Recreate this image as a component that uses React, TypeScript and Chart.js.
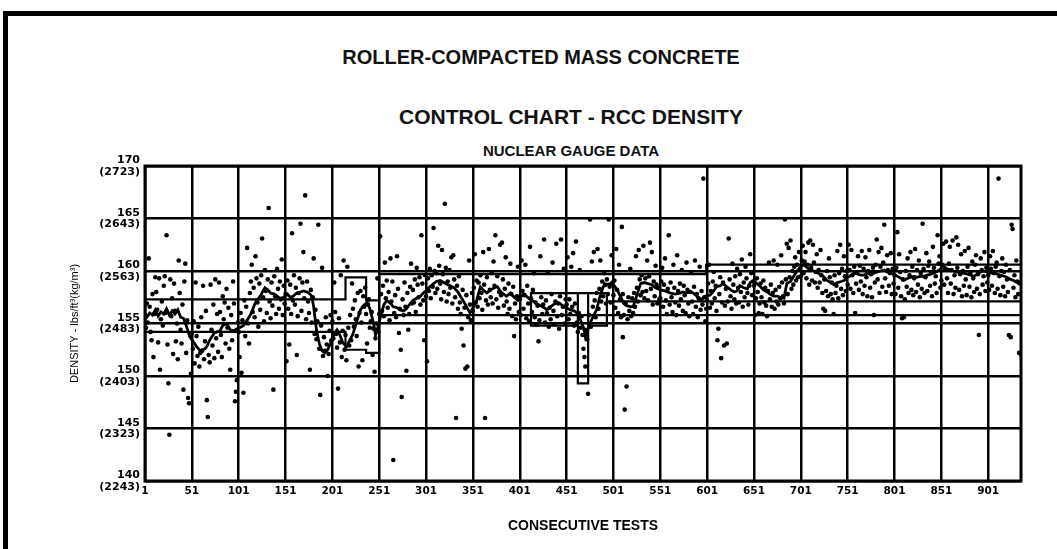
import React, { useEffect, useRef } from 'react';
import { Chart, registerables } from 'chart.js';

Chart.register(...registerables);

const chartTitle = 'ROLLER-COMPACTED MASS CONCRETE';
const chartSubtitle = 'CONTROL CHART - RCC DENSITY';
const chartCaption = 'NUCLEAR GAUGE DATA';
const xAxisTitle = 'CONSECUTIVE TESTS';
const yAxisTitle = 'DENSITY - lbs/ft³(kg/m³)';

const testTicks = [1, 51, 101, 151, 201, 251, 301, 351, 401, 451, 501, 551, 601, 651, 701, 751, 801, 851, 901];
const firstTest = 1;
const lastTest = 936;
const densityTicksLb = [140, 145, 150, 155, 160, 165, 170];
const densityTicksKg = [2243, 2323, 2403, 2483, 2563, 2643, 2723];

// individual nuclear gauge readings [test no., density lb/ft3]
const gaugeReadings: [number, number][] = [
  [1,155.8],[2,154.6],[3,156.9],[4,155.1],[5,161.2],[6,156.6],[7,154.2],[8,153.4],[9,157.8],[10,151.8],[11,155.9],[12,159.4],[13,158.0],[14,156.3],[15,153.2],[16,159.3],[17,150.6],[18,155.4],[19,157.1],[20,154.8],[21,158.6],[22,159.5],[23,156.0],[24,163.4],[25,153.0],[26,149.3],[27,144.4],[28,159.2],[29,155.7],[30,157.4],[31,152.1],[32,158.8],[33,156.2],[34,153.3],[35,155.0],[36,151.6],[37,161.0],[38,157.9],[39,154.4],[40,153.1],[41,156.8],[42,148.7],[43,159.0],[44,160.7],[45,152.2],[46,155.3],[47,147.9],[48,147.4],[49,154.0],[50,150.2],
  [55,158.9],[60,152.2],[63,158.6],[67,147.7],[68,146.1],[71,158.7],[76,159.2],[80,158.9],[84,157.6],[88,158.3],[92,150.6],[95,159.0],[97,147.6],[98,148.5],[99,149.6],
  [51,154.1],[52,152.6],[53,155.2],[54,151.2],[56,153.8],[57,151.9],[58,154.7],[59,150.9],[61,155.6],[62,152.4],[64,151.6],[65,153.3],[66,156.2],[69,152.0],[70,151.3],[72,154.4],[73,152.9],[74,156.8],[75,151.7],[77,153.6],[78,155.9],[79,152.3],[81,156.1],[82,153.9],[83,151.8],[85,155.4],[86,157.0],[87,153.1],[89,154.6],[90,156.5],[91,152.6],[93,155.8],[94,153.4],[96,156.9],[100,155.1],
  [102,151.8],[104,150.3],[106,148.4],[110,162.2],[112,153.1],[115,160.6],[119,161.4],[126,163.1],[133,166.0],[138,148.7],[142,160.2],[147,161.1],
  [101,154.2],[103,156.0],[105,155.3],[107,157.2],[108,153.8],[109,156.6],[111,155.0],[113,157.9],[114,159.0],[116,156.1],[117,158.4],[118,155.6],[120,159.3],[121,157.0],[122,154.7],[123,158.8],[124,156.3],[125,159.6],[127,157.5],[128,155.2],[129,160.1],[130,158.1],[131,156.0],[132,159.2],[134,157.1],[135,155.5],[136,158.9],[137,156.7],[139,159.5],[140,157.6],[141,155.9],[143,158.3],[144,156.4],[145,159.0],[146,157.3],[148,155.8],[149,158.6],[150,156.9],
  [152,151.4],[155,153.0],[158,163.6],[163,152.0],[167,164.5],[170,161.8],[172,167.2],[177,150.6],[181,161.2],[186,164.4],[188,148.2],[190,160.3],[196,150.0],
  [151,157.8],[153,159.1],[154,156.4],[156,158.7],[157,155.9],[159,157.2],[160,159.6],[161,156.8],[162,158.4],[164,155.7],[165,157.9],[166,159.3],[168,156.2],[169,158.9],[171,157.4],[173,155.4],[174,159.0],[175,157.1],[176,156.0],[178,158.2],[179,155.1],[180,157.5],[182,154.0],[183,156.3],[184,153.5],[185,155.2],[187,152.6],[189,154.8],[191,151.9],[192,153.7],[193,152.4],[194,155.6],[195,153.0],[197,152.1],[198,154.3],[199,155.8],[200,153.4],
  [203,158.9],[207,148.8],[210,159.6],[213,161.0],[217,160.4],[222,158.8],[229,150.9],[233,151.5],[238,153.1],[241,154.6],[244,152.0],[246,150.4],[249,159.3],
  [201,155.2],[202,153.6],[204,156.1],[205,154.0],[206,152.7],[208,155.5],[209,153.2],[211,151.8],[212,154.3],[214,152.5],[215,153.9],[216,151.5],[218,154.6],[219,152.9],[220,155.8],[221,153.4],[223,156.4],[224,154.7],[225,157.2],[226,155.4],[227,153.8],[228,157.9],[230,156.0],[231,158.1],[232,155.1],[234,157.6],[235,156.6],[236,158.4],[237,155.9],[239,156.8],[240,157.3],[242,155.2],[243,156.1],[245,154.5],[247,153.6],[248,155.0],[250,154.2],
  [252,163.3],[257,160.8],[263,161.2],[266,142.0],[270,161.4],[272,154.1],[274,152.5],[275,148.0],[280,150.5],[282,154.4],[285,160.7],[291,160.3],[296,163.4],[299,153.4],
  [251,155.9],[253,157.8],[254,156.2],[255,158.6],[256,155.7],[258,157.4],[259,159.1],[260,156.5],[261,158.0],[262,155.3],[264,157.1],[265,159.0],[267,156.0],[268,157.7],[269,155.6],[271,158.3],[273,156.4],[276,157.3],[277,155.8],[278,158.9],[279,156.6],[281,157.9],[283,155.9],[284,158.5],[286,156.9],[287,158.2],[288,157.0],[289,159.2],[290,156.1],[292,158.7],[293,157.5],[294,159.4],[295,156.8],[297,158.8],[298,157.2],[300,159.6],
  [302,151.4],[309,164.1],[314,162.4],[318,162.0],[321,166.4],[328,161.3],[330,161.5],[333,146.0],[339,154.5],[341,152.9],[343,150.7],[345,150.9],[347,161.0],
  [301,157.6],[303,159.3],[304,158.1],[305,160.2],[306,157.4],[307,159.6],[308,158.5],[310,160.0],[311,157.9],[312,159.8],[313,158.3],[315,160.5],[316,158.8],[317,157.3],[319,159.7],[320,158.0],[322,160.3],[323,157.1],[324,159.0],[325,157.8],[326,160.1],[327,158.4],[329,156.9],[331,159.2],[332,157.5],[334,158.6],[335,156.4],[336,159.5],[337,157.0],[338,155.9],[340,158.2],[342,156.5],[344,157.7],[346,155.6],[348,156.8],[349,155.3],[350,157.9],
  [353,161.6],[362,161.8],[364,146.0],[368,162.1],[373,160.9],[375,163.4],[380,162.5],[382,162.7],[386,161.3],[391,160.7],[395,153.8],[399,160.4],
  [351,156.2],[352,158.4],[354,157.0],[355,159.1],[356,156.6],[357,158.9],[358,157.4],[359,159.6],[360,157.9],[361,156.3],[363,158.7],[365,157.2],[366,159.4],[367,156.8],[369,158.2],[370,157.5],[371,159.8],[372,156.9],[374,158.6],[376,157.3],[377,159.5],[378,156.5],[379,158.0],[381,157.7],[383,159.2],[384,156.7],[385,158.3],[387,157.1],[388,155.9],[389,158.8],[390,156.4],[392,157.8],[393,155.7],[394,158.5],[396,156.9],[397,155.4],[398,157.6],[400,156.1],
  [403,161.0],[407,160.6],[412,162.3],[416,159.8],[421,153.3],[423,161.4],[427,163.0],[431,159.9],[436,160.8],[440,162.6],[445,163.0],[448,160.2],
  [401,157.3],[402,155.8],[404,158.1],[405,156.4],[406,157.7],[408,155.5],[409,158.6],[410,156.9],[411,155.2],[413,157.4],[414,156.1],[415,158.2],[417,155.6],[418,157.0],[419,154.9],[420,156.7],[422,155.3],[424,157.5],[425,155.9],[426,156.8],[428,155.1],[429,157.2],[430,156.0],[432,154.7],[433,156.5],[434,155.4],[435,157.8],[437,156.2],[438,154.9],[439,157.1],[441,155.7],[442,156.9],[443,154.5],[444,157.6],[446,155.8],[447,156.6],[449,155.0],[450,157.3],
  [452,161.3],[456,160.4],[458,161.7],[461,162.8],[465,160.1],[469,152.6],[470,151.8],[471,150.9],[474,148.3],[476,164.9],[478,160.9],[480,161.8],[484,162.1],[487,161.0],[491,159.8],[496,164.9],[499,161.5],
  [451,156.8],[453,155.4],[454,157.3],[455,155.9],[457,156.6],[459,154.8],[460,156.9],[462,155.1],[463,154.2],[464,156.0],[466,154.6],[467,155.7],[468,153.9],[472,154.4],[473,153.5],[475,155.8],[477,154.7],[479,156.6],[481,157.2],[482,155.6],[483,157.9],[485,156.4],[486,158.3],[488,157.1],[489,159.0],[490,157.6],[492,158.7],[493,156.9],[494,159.2],[495,157.8],[497,158.5],[498,157.0],[500,158.9],
  [504,162.1],[507,160.6],[510,164.2],[511,153.7],[513,146.8],[515,149.0],[519,160.2],[525,161.4],[528,162.0],[533,162.4],[537,161.0],[540,162.7],[542,161.8],[546,160.5],
  [501,157.7],[502,159.1],[503,156.5],[505,158.2],[506,156.0],[508,157.3],[509,155.6],[511,157.8],[512,155.8],[514,156.9],[516,155.4],[517,157.5],[518,156.2],[520,155.7],[521,157.4],[522,156.0],[523,157.9],[524,156.6],[526,158.4],[527,157.1],[529,159.2],[530,157.7],[531,159.6],[532,158.0],[534,157.4],[535,159.3],[536,158.1],[538,157.2],[539,159.5],[541,158.3],[543,156.8],[544,159.0],[545,157.6],[547,158.7],[548,156.9],[549,158.4],[550,157.3],
  [553,160.3],[556,161.2],[560,163.4],[565,160.6],[569,161.5],[574,160.1],[579,160.8],[584,159.9],[588,161.0],[593,160.4],[597,168.8],[599,155.2],
  [551,157.4],[552,159.0],[554,156.6],[555,158.7],[557,157.2],[558,155.9],[559,158.3],[561,156.8],[562,158.9],[563,157.5],[564,156.1],[566,158.4],[567,157.0],[568,155.8],[570,158.1],[571,156.7],[572,158.8],[573,157.3],[575,156.2],[576,158.6],[577,157.7],[578,156.0],[580,158.2],[581,156.9],[582,155.7],[583,158.0],[585,157.1],[586,155.9],[587,158.5],[589,156.6],[590,157.8],[591,155.6],[592,157.4],[594,156.3],[595,158.1],[596,156.8],[598,157.5],[600,156.4],
  [603,160.6],[608,159.9],[612,153.4],[613,154.5],[616,151.7],[619,152.9],[622,153.1],[624,163.1],[628,160.7],[633,160.2],[638,161.1],[642,160.4],[647,161.6],
  [601,157.2],[602,158.8],[604,156.5],[605,158.1],[606,156.9],[607,159.0],[609,157.4],[610,158.6],[611,156.2],[614,157.8],[615,159.4],[617,157.0],[618,158.9],[620,156.7],[621,158.3],[623,157.1],[625,159.2],[626,157.6],[627,156.4],[629,158.7],[630,157.3],[631,159.5],[632,156.9],[634,158.4],[635,157.0],[636,159.7],[637,158.0],[639,156.6],[640,158.9],[641,157.5],[643,159.3],[644,157.9],[645,156.8],[646,158.6],[648,159.8],[649,157.7],[650,159.0],
  [652,155.8],[656,156.0],[660,155.9],[665,155.7],[667,160.8],[672,161.0],[676,160.6],[680,161.5],[684,164.9],[686,162.6],[688,162.2],[690,162.9],[695,161.3],[699,161.8],
  [651,158.6],[653,157.4],[654,159.3],[655,158.0],[657,156.9],[658,158.8],[659,157.5],[661,159.1],[662,157.0],[663,158.4],[664,156.7],[666,158.1],[668,157.3],[669,158.7],[670,156.6],[671,157.9],[673,156.4],[674,158.2],[675,157.1],[677,156.8],[678,158.5],[679,157.4],[681,158.9],[682,157.6],[683,156.9],[685,159.2],[687,157.8],[689,159.4],[691,158.3],[692,160.0],[693,158.7],[694,160.4],[696,159.1],[697,160.6],[698,159.4],[700,160.2],
  [703,162.4],[706,161.8],[709,162.7],[711,162.9],[714,162.5],[718,161.6],[722,162.0],[725,156.4],[727,156.2],[731,161.2],[736,155.9],[740,161.9],[743,162.5],[747,161.4],
  [701,159.5],[702,161.0],[704,159.8],[705,160.9],[707,159.3],[708,160.6],[710,158.7],[712,160.3],[713,159.1],[715,160.8],[716,158.9],[717,159.9],[719,158.4],[720,160.1],[721,158.9],[723,159.6],[724,157.9],[726,159.2],[728,158.1],[729,160.0],[730,157.6],[732,159.4],[733,157.8],[734,158.9],[735,157.3],[737,159.6],[738,157.9],[739,158.6],[741,157.4],[742,159.8],[744,158.3],[745,160.2],[746,157.7],[748,159.5],[749,158.1],[750,160.0],
  [752,162.5],[755,162.0],[759,156.0],[762,161.4],[766,161.9],[770,161.3],[774,162.0],[779,155.8],[782,163.0],[784,161.8],[787,162.2],[790,164.4],[793,161.5],[797,161.7],
  [751,158.7],[753,160.1],[754,158.3],[756,159.6],[757,157.9],[758,160.4],[760,158.8],[761,159.9],[763,158.2],[764,160.5],[765,159.0],[767,157.8],[768,160.2],[769,158.6],[771,159.4],[772,157.6],[773,160.0],[775,158.4],[776,159.7],[777,157.5],[778,160.3],[780,158.9],[781,160.6],[783,159.2],[785,157.9],[786,160.4],[788,158.5],[789,160.8],[791,159.3],[792,158.0],[794,160.1],[795,158.6],[796,159.8],[798,157.8],[799,160.2],[800,158.8],
  [804,163.7],[806,161.6],[809,155.5],[811,155.6],[815,161.2],[818,161.8],[823,162.1],[827,161.0],[831,164.5],[835,161.7],[838,160.9],[842,162.3],[847,163.4],[849,161.4],
  [801,159.6],[802,157.8],[803,160.3],[805,158.4],[807,159.9],[808,157.6],[810,159.2],[812,157.3],[813,160.0],[814,158.5],[816,157.9],[817,159.6],[819,158.2],[820,160.4],[821,157.7],[822,159.3],[824,158.0],[825,160.1],[826,158.7],[828,157.5],[829,159.8],[830,158.3],[832,160.2],[833,157.9],[834,159.4],[836,158.1],[837,160.5],[839,158.6],[840,159.9],[841,157.6],[843,160.3],[844,158.8],[845,159.5],[846,157.9],[848,160.7],[850,158.4],
  [853,162.6],[856,162.8],[860,162.3],[863,162.9],[867,163.2],[869,162.5],[872,161.6],[876,161.9],[880,162.2],[884,160.9],[888,161.5],[891,153.9],[893,161.2],[897,161.8],
  [851,159.1],[852,160.6],[854,158.7],[855,160.2],[857,159.3],[858,157.9],[859,160.7],[861,158.8],[862,160.1],[864,157.8],[865,159.6],[866,158.4],[868,160.3],[870,158.2],[871,159.7],[873,157.6],[874,160.0],[875,158.6],[877,159.2],[878,157.7],[879,160.4],[881,158.5],[882,159.8],[883,157.5],[885,159.3],[886,158.0],[887,160.6],[889,158.3],[890,159.7],[892,157.8],[894,160.1],[895,158.7],[896,159.5],[898,158.1],[899,160.3],[900,158.9],
  [903,161.4],[906,161.9],[910,160.8],[912,168.8],[916,161.2],[920,160.6],[923,153.9],[925,153.7],[926,164.4],[927,164.0],[931,161.0],[934,152.2],[936,152.0],
  [901,159.6],[902,158.2],[904,160.2],[905,158.6],[907,159.8],[908,157.9],[909,160.4],[911,158.3],[913,159.5],[914,157.7],[915,160.0],[917,158.5],[918,159.9],[919,157.6],[921,159.2],[922,158.0],[924,160.1],[928,158.4],[929,159.6],[930,157.5],[932,159.0],[933,157.8],[935,158.9]
];

// moving average of the readings [test no., density]
const movingAverage: [number, number][] = [
  [1,155.4],[3,155.6],[6,156.0],[9,155.8],[12,156.3],[15,155.7],[18,156.1],[21,155.9],[24,156.4],[27,155.8],[30,156.2],[33,155.9],[36,156.3],[39,155.6],[42,155.5],[45,154.8],[49,153.7],[53,153.2],[56,152.8],[60,152.4],[62,152.5],[65,152.6],[67,152.8],[70,153.4],[72,153.7],[75,154.1],[78,154.2],[81,154.3],[84,154.8],[88,155.0],[92,154.4],[96,154.3],[99,154.5],[102,154.6],[106,154.8],[110,155.3],[114,155.9],[117,156.6],[120,157.2],[124,157.6],[127,158.1],[129,158.4],[132,158.2],[135,157.9],[139,157.8],[142,157.6],[145,157.4],[149,157.5],[153,157.8],[156,157.5],[159,157.6],[163,157.9],[167,158.0],[170,158.1],[174,158.0],[177,157.8],[179,157.6],[181,156.6],[184,154.4],[187,153.1],[190,152.4],[193,152.2],[196,152.5],[199,153.1],[202,153.9],[206,154.4],[209,153.9],[212,153.2],[216,152.8],[219,153.3],[223,154.0],[227,155.2],[231,156.3],[234,156.7],[238,157.0],[241,156.4],[245,155.0],[247,153.9],[250,154.8],[253,155.9],[256,156.8],[259,157.2],[263,156.9],[266,156.6],[270,156.5],[273,156.3],[277,156.2],[280,156.4],[284,156.9],[287,157.2],[291,157.4],[295,157.6],[298,157.9],[302,158.2],[305,158.5],[309,158.8],[312,159.0],[316,159.1],[320,158.9],[324,158.7],[327,158.6],[331,158.4],[335,158.0],[339,157.4],[343,156.8],[346,156.3],[348,156.0],[351,156.5],[355,157.2],[359,158.5],[363,158.1],[366,157.9],[370,158.2],[374,158.4],[377,158.5],[381,158.0],[384,157.8],[387,157.6],[391,157.9],[395,157.5],[399,157.2],[402,157.5],[405,157.8],[408,157.6],[412,157.3],[416,157.1],[419,156.9],[423,156.7],[427,156.5],[430,156.3],[434,156.6],[437,156.8],[441,157.0],[444,156.9],[448,156.6],[451,156.5],[455,156.3],[459,156.2],[462,156.0],[466,155.3],[469,154.6],[471,153.7],[473,154.2],[476,155.0],[479,155.6],[483,156.3],[486,157.4],[490,158.5],[494,158.7],[498,158.8],[502,158.6],[505,158.2],[509,157.5],[512,156.9],[515,156.7],[519,156.6],[522,156.6],[526,157.7],[530,158.8],[534,158.9],[538,158.8],[542,158.7],[546,158.4],[551,158.2],[556,158.1],[562,157.9],[567,157.8],[572,157.9],[575,158.0],[579,157.9],[583,158.0],[586,157.9],[590,157.6],[594,157.2],[599,157.6],[604,157.7],[608,158.1],[611,158.5],[615,158.6],[618,158.8],[622,158.5],[626,158.2],[630,158.0],[633,158.1],[636,158.6],[640,158.4],[644,158.3],[647,158.9],[651,159.1],[654,158.8],[658,158.5],[661,158.2],[665,158.0],[668,157.8],[672,157.6],[676,157.6],[679,157.5],[683,157.4],[686,158.8],[690,159.0],[694,159.6],[697,160.0],[701,160.4],[704,160.6],[708,160.3],[711,160.1],[715,160.0],[718,159.9],[721,159.7],[725,159.5],[729,159.1],[733,158.9],[736,158.7],[740,158.9],[744,159.0],[747,159.1],[751,159.4],[755,159.6],[758,159.8],[762,159.7],[765,159.6],[768,159.6],[772,159.8],[775,159.7],[779,159.8],[782,159.9],[786,160.0],[790,160.1],[793,159.9],[797,159.8],[800,159.7],[804,159.5],[808,159.3],[811,159.1],[815,159.3],[818,159.4],[822,159.5],[825,159.4],[829,159.5],[832,159.5],[836,159.6],[840,159.7],[843,159.8],[847,160.0],[850,160.2],[854,160.4],[857,160.2],[861,160.1],[864,160.0],[868,159.9],[871,159.8],[875,159.8],[879,159.7],[882,159.6],[886,159.5],[889,159.7],[893,159.9],[896,160.0],[900,159.9],[904,159.8],[907,159.8],[911,159.7],[914,159.6],[918,159.5],[921,159.4],[925,159.2],[928,159.1],[932,158.9],[935,158.7]
];

// control limits (step lines) [test no., density]
const upperLimit: [number, number][] = [
  [1,157.3],[215,157.3],[215,159.4],[237,159.4],[237,157.2],[251,157.2],[251,159.7],[600,159.7],[600,160.6],[936,160.6]
];
const lowerLimit: [number, number][] = [
  [1,154.2],[215,154.2],[215,152.5],[237,152.5],[237,152.2],[251,152.2],[251,155.8],[936,155.8]
];
const shiftLimits: [number, number][] = [
  [494,157.9],[413,157.9],[413,154.8],[463,154.8],[463,157.9],[463,149.3],[474,149.3],[474,157.9],[474,154.8],[494,154.8],[494,157.9]
];
const lateLowerLimit: [number, number][] = [
  [494,157.1],[936,157.1]
];

const toXY = (arr: [number, number][]) => arr.map(([x, y]) => ({ x, y }));

const framePlugin = {
  id: 'frame',
  afterDatasetsDraw(chart: any) {
    const { ctx, chartArea: a } = chart;
    ctx.save();
    ctx.strokeStyle = '#000';
    ctx.lineWidth = 3;
    ctx.strokeRect(a.left, a.top, a.right - a.left, a.bottom - a.top);
    ctx.restore();
  },
};

const FONT = '"Liberation Sans", Arial, sans-serif';

export default function App() {
  const canvasRef = useRef<HTMLCanvasElement | null>(null);

  useEffect(() => {
    if (!canvasRef.current) return;
    const lineDs = (data: [number, number][], width: number) => ({
      type: 'line' as const,
      data: toXY(data),
      borderColor: '#000',
      borderWidth: width,
      pointRadius: 0,
      tension: 0,
      fill: false,
    });
    const chart = new Chart(canvasRef.current, {
      type: 'line',
      data: {
        datasets: [
          {
            type: 'scatter' as const,
            data: toXY(gaugeReadings),
            backgroundColor: '#000',
            borderColor: '#000',
            borderWidth: 0,
            pointRadius: 2.3,
          } as any,
          lineDs(upperLimit, 2.2),
          lineDs(lowerLimit, 2.2),
          lineDs(shiftLimits, 2.2),
          lineDs(lateLowerLimit, 2.2),
          lineDs(movingAverage, 2.8),
        ],
      },
      options: {
        responsive: false,
        animation: false,
        events: [],
        layout: { padding: { left: 62, top: 166, right: 36, bottom: 14 } },
        plugins: { legend: { display: false }, tooltip: { enabled: false }, title: { display: false } },
        scales: {
          x: {
            type: 'linear',
            min: firstTest,
            max: lastTest,
            afterBuildTicks: (s: any) => { s.ticks = testTicks.map((v) => ({ value: v })); },
            afterFit: (s: any) => { s.height = 54; },
            grid: { color: '#000', lineWidth: 2.5, drawTicks: false },
            border: { display: false },
            ticks: {
              autoSkip: false,
              maxRotation: 0,
              padding: 4,
              color: '#000',
              font: { family: '"DejaVu Sans", sans-serif', size: 10.5, weight: 'bold' },
              callback: (v: any) => String(v),
            },
            title: {
              display: true,
              text: xAxisTitle,
              color: '#000',
              padding: { top: 0, bottom: 0 },
              font: { family: FONT, size: 14, weight: 'bold' },
            },
          },
          y: {
            type: 'linear',
            min: densityTicksLb[0],
            max: densityTicksLb[densityTicksLb.length - 1],
            afterBuildTicks: (s: any) => { s.ticks = densityTicksLb.map((v) => ({ value: v })); },
            afterFit: (s: any) => { s.width = 83; },
            grid: { color: '#000', lineWidth: 2.5, drawTicks: false },
            border: { display: false },
            ticks: {
              padding: 5,
              color: '#000',
              font: { family: '"DejaVu Sans", sans-serif', size: 11, weight: 'bold', lineHeight: 1.05 },
              callback: (v: any, i: number) => [String(v), `(${densityTicksKg[i]})`],
            },
            title: {
              display: true,
              text: yAxisTitle,
              color: '#000',
              padding: { top: 6, bottom: 0 },
              font: { family: FONT, size: 11, weight: 'normal' },
            },
          },
        },
      },
      plugins: [framePlugin],
    } as any);
    return () => chart.destroy();
  }, []);

  const titleStyle = (top: number, size: number, center: number): React.CSSProperties => ({
    position: 'absolute',
    top,
    left: center - 500,
    width: 1000,
    textAlign: 'center',
    fontFamily: FONT,
    fontWeight: 'bold',
    fontSize: size,
    lineHeight: `${size}px`,
    color: '#111',
    whiteSpace: 'nowrap',
  });

  return (
    <div style={{ position: 'fixed', left: 0, top: 0, width: 1057, height: 549, background: '#fff', overflow: 'hidden' }}>
      <div style={{ position: 'absolute', left: 3, top: 11, width: 1070, height: 560, borderTop: '5px solid #000', borderLeft: '5px solid #000' }} />
      <div style={titleStyle(47, 20, 541)}>{chartTitle}</div>
      <div style={titleStyle(106, 21, 571)}>{chartSubtitle}</div>
      <div style={titleStyle(143, 15, 571)}>{chartCaption}</div>
      <canvas ref={canvasRef} width={1057} height={549} style={{ position: 'absolute', left: 0, top: 0 }} />
    </div>
  );
}
